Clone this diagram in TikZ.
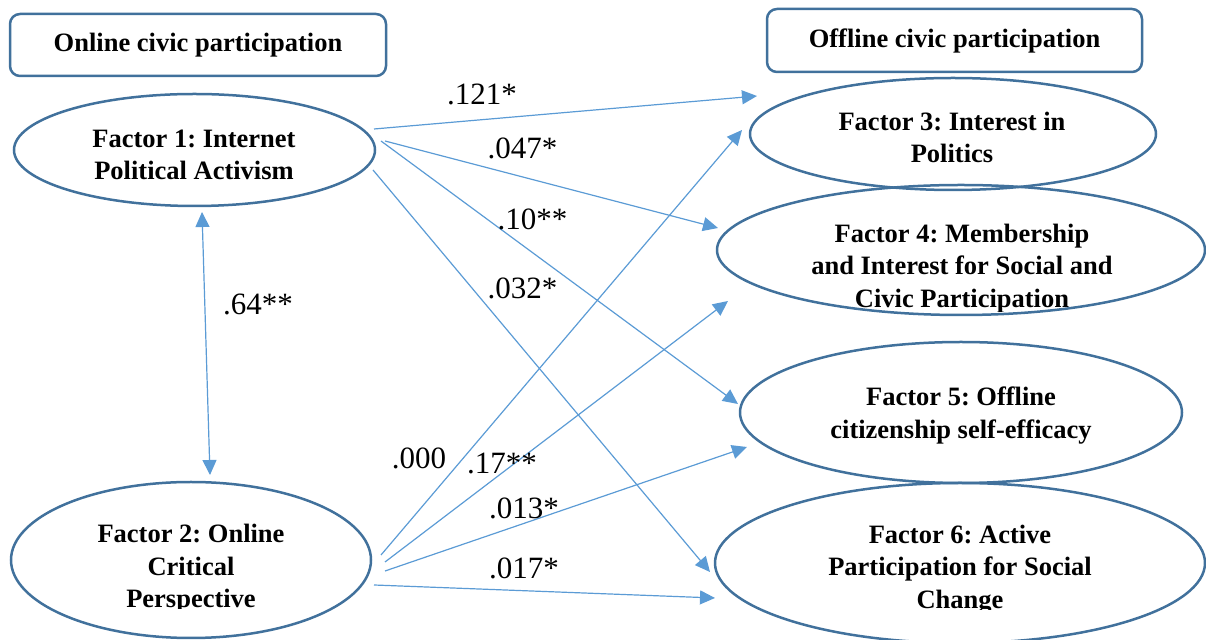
\documentclass[tikz,border=0pt]{standalone}
\usepackage{fontspec}
\setmainfont{Liberation Serif}
\usetikzlibrary{arrows.meta,shapes.geometric,calc}
\definecolor{edgeblue}{HTML}{41719C}
\definecolor{arrblue}{HTML}{5B9BD5}
\frenchspacing
\begin{document}
\begin{tikzpicture}[x=0.5pt,y=-0.5pt,
  fac/.style={ellipse, draw=edgeblue, line width=1.25pt, inner sep=0pt, outer sep=0pt},
  ftxt/.style={font=\bfseries\fontsize{13.25}{16.25}\selectfont, align=center, inner sep=0pt},
  hdr/.style={rectangle, rounded corners=5pt, draw=edgeblue, line width=1.25pt,
    font=\bfseries\fontsize{13.25}{16}\selectfont, inner sep=0pt},
  lbl/.style={font=\fontsize{15.5}{18}\selectfont, inner sep=0pt, anchor=base},
  conn/.style={draw=arrblue, line width=0.6pt, -{Triangle[length=7.5pt,width=7pt]}},
  biconn/.style={draw=arrblue, line width=0.6pt, {Triangle[length=7.5pt,width=7pt]}-{Triangle[length=7.5pt,width=7pt]}}
]
\useasboundingbox (0,0) rectangle (1206,640);

% header boxes
\node[hdr, minimum width=188pt, minimum height=31pt] (hon) at (198,45) {Online civic participation};
\node[hdr, minimum width=187.5pt, minimum height=31.5pt] (hoff) at (954.5,40.5) {Offline civic participation};

% ellipses
\node[fac, minimum width=180.5pt, minimum height=56pt] (f1) at (194.5,150) {};
\node[fac, minimum width=180pt, minimum height=78pt] (f2) at (191,560) {};
\node[fac, minimum width=203pt, minimum height=56pt] (f3) at (953,134) {};
\node[fac, minimum width=244pt, minimum height=65pt] (f4) at (961,250) {};
\node[fac, minimum width=221pt, minimum height=70.5pt] (f5) at (961,412.5) {};
\node[fac, minimum width=245pt, minimum height=80pt] (f6) at (960,563) {};

% factor texts
\node[ftxt] (t1) at (194,155) {Factor 1: Internet\\Political Activism};
\begin{scope}
  \clip (0,500) rectangle (380,609);
  \node[ftxt] (t2) at (191,569) {Factor 2: Online\\Critical\\Perspective};
\end{scope}
\begin{scope}
  \clip (740,95) rectangle (1170,164);
  \node[ftxt] (t3) at (952,137.5) {Factor 3: Interest in\\Politics};
\end{scope}
\begin{scope}
  \clip (700,200) rectangle (1206,312);
  \node[ftxt] (t4) at (962,268.5) {Factor 4: Membership\\and Interest for Social and\\Civic Participation};
\end{scope}
\node[ftxt] (t5) at (961,415.5) {Factor 5: Offline\\citizenship self-efficacy};
\begin{scope}
  \clip (700,500) rectangle (1206,610);
  \node[ftxt] (t6) at (960,569.5) {Factor 6: Active\\Participation for Social\\Change};
\end{scope}

% connector end points, placed relative to the factor nodes
\coordinate (a1s) at ($(f1.center)+(179.5,-21)$);
\coordinate (a1e) at ($(f3.center)+(-196,-38)$);
\coordinate (a2s) at ($(f1.center)+(190.5,-9)$);
\coordinate (a2e) at ($(f4.center)+(-243,-22)$);
\coordinate (a3s) at ($(f1.center)+(186.5,-9)$);
\coordinate (a3e) at ($(f5.center)+(-223,-8.5)$);
\coordinate (a4s) at ($(f1.center)+(178.5,20)$);
\coordinate (a4e) at ($(f6.center)+(-250,9)$);
\coordinate (a5s) at ($(f2.center)+(190,-5)$);
\coordinate (a5e) at ($(f3.center)+(-211,-4)$);
\coordinate (a6s) at ($(f2.center)+(194,2)$);
\coordinate (a6e) at ($(f4.center)+(-233,51)$);
\coordinate (a7s) at ($(f2.center)+(194,11)$);
\coordinate (a7e) at ($(f5.center)+(-214,34.5)$);
\coordinate (a8s) at ($(f2.center)+(183,25)$);
\coordinate (a8e) at ($(f6.center)+(-245,35)$);
\coordinate (bis) at ($(f1.center)+(7.5,62)$);
\coordinate (bie) at ($(f2.center)+(19,-85)$);

% connectors
\draw[conn] (a1s) -- (a1e);
\draw[conn] (a2s) -- (a2e);
\draw[conn] (a3s) -- (a3e);
\draw[conn] (a4s) -- (a4e);
\draw[conn] (a5s) -- (a5e);
\draw[conn] (a6s) -- (a6e);
\draw[conn] (a7s) -- (a7e);
\draw[conn] (a8s) -- (a8e);
\draw[biconn] (bis) -- (bie);

% coefficient labels
\node[lbl] (l1) at (482,105) {.121*};
\node[lbl] (l2) at (522.5,159) {.047*};
\node[lbl] (l3) at (532.5,230) {.10**};
\node[lbl] (l4) at (522.5,299) {.032*};
\node[lbl] (l5) at (419,469) {.000};
\node[lbl] (l6) at (502,474) {.17**};
\node[lbl] (l7) at (524,519) {.013*};
\node[lbl] (l8) at (524,579) {.017*};
\node[lbl] (l9) at (258,315) {.64**};
\end{tikzpicture}
\end{document}
